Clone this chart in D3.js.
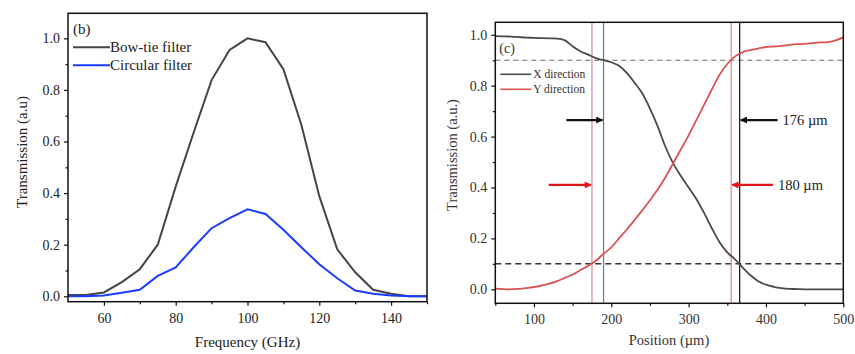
<!DOCTYPE html>
<html>
<head>
<meta charset="utf-8">
<script src="https://cdn.jsdelivr.net/npm/d3@7"></script>
<style>
  body { margin: 0; background: #fff; }
  .axis path { display: none; }
  .axis line { stroke: #111; stroke-width: 1.2; }
</style>
</head>
<body>
<div id="chart"></div>
<script>
// panel (b): frequency response
var freq = [50, 55, 60, 65, 70, 75, 80, 85, 90, 95, 100, 105, 110, 115, 120, 125, 130, 135, 140, 145, 150];
var bowtie = [0.005, 0.005, 0.015, 0.055, 0.105, 0.2, 0.425, 0.635, 0.838, 0.955, 1.0, 0.985, 0.88, 0.665, 0.388, 0.182, 0.093, 0.025, 0.01, 0.0, 0.0];
var circular = [0.0, 0.0, 0.003, 0.014, 0.025, 0.079, 0.112, 0.19, 0.264, 0.303, 0.337, 0.319, 0.258, 0.19, 0.124, 0.07, 0.022, 0.01, 0.003, 0.0, 0.0];
var freqTicks = [60, 80, 100, 120, 140];
var transTicks = [0.0, 0.2, 0.4, 0.6, 0.8, 1.0];

// panel (c): beam profile
var position = [50, 60, 70, 80, 90, 100, 110, 120, 130, 140, 150, 160, 170, 180, 190, 200, 210, 220, 230, 240,
    250, 260, 270, 280, 290, 300, 310, 320, 330, 340, 350, 360, 370, 380, 390, 400, 410, 420, 430, 440,
    450, 460, 470, 480, 490, 500];
var xDirection = [0.995, 0.994, 0.993, 0.991, 0.989, 0.988, 0.987, 0.986, 0.985, 0.978, 0.955, 0.935, 0.922, 0.908, 0.9, 0.892,
    0.878, 0.85, 0.812, 0.77, 0.71, 0.64, 0.56, 0.495, 0.445, 0.4, 0.355, 0.3, 0.24, 0.185, 0.145, 0.118, 0.085,
    0.055, 0.032, 0.018, 0.01, 0.005, 0.002, 0.001, 0.0, 0.0, 0.0, 0.0, 0.0, 0.0];
var yDirection = [0.003, 0.001, 0.0, 0.002, 0.005, 0.009, 0.015, 0.022, 0.032, 0.045, 0.058, 0.075, 0.092, 0.112, 0.14, 0.165,
    0.2, 0.235, 0.272, 0.31, 0.35, 0.392, 0.44, 0.495, 0.55, 0.605, 0.665, 0.725, 0.785, 0.843, 0.885, 0.915, 0.932,
    0.94, 0.946, 0.952, 0.954, 0.956, 0.96, 0.963, 0.964, 0.967, 0.97, 0.971, 0.978, 0.99];
var posTicks = [100, 200, 300, 400, 500];
var levels = [0.9, 0.1];
var edgesX = [190, 366];
var edgesY = [175, 355];
var widthLabels = ["176 µm", "180 µm"];

var serif = "'Liberation Serif', 'DejaVu Serif', serif";

var svg = d3.select("#chart").append("svg")
    .attr("width", 855)
    .attr("height", 354)
    .style("font-family", serif);

var defs = svg.append("defs");
["#111", "#e0161a"].forEach(function(c, i) {
    defs.append("marker")
        .attr("id", "arrow" + i)
        .attr("viewBox", "0 0 10 10")
        .attr("refX", 9).attr("refY", 5)
        .attr("markerWidth", 4.5).attr("markerHeight", 3.2)
        .attr("orient", "auto")
        .attr("markerUnits", "strokeWidth")
        .append("path")
        .attr("d", "M0,0 L10,5 L0,10 Z")
        .attr("fill", c);
});

function styleAxis(sel, color) {
    sel.attr("font-family", null).attr("font-size", null);
    sel.selectAll("text")
        .style("font-family", serif)
        .style("font-size", "14px")
        .attr("fill", color);
}

function drawAxes(g, x, y, w, h, xt, xminor, yminor, color) {
    g.append("g").attr("class", "axis")
        .attr("transform", "translate(0," + h + ")")
        .call(d3.axisBottom(x).tickValues(xt).tickSize(4).tickPadding(7))
        .call(styleAxis, color);
    g.append("g").attr("class", "axis")
        .attr("transform", "translate(0," + h + ")")
        .call(d3.axisBottom(x).tickValues(xminor).tickSize(2.5).tickFormat(""));
    g.append("g").attr("class", "axis")
        .call(d3.axisLeft(y).tickValues(transTicks).tickSize(4).tickPadding(4).tickFormat(d3.format(".1f")))
        .call(styleAxis, color);
    g.append("g").attr("class", "axis")
        .call(d3.axisLeft(y).tickValues(yminor).tickSize(2.5).tickFormat(""));
    g.append("rect")
        .attr("width", w).attr("height", h)
        .attr("fill", "none")
        .attr("stroke", "#111")
        .attr("stroke-width", 1.5);
}

// ---------- panel (b) ----------
var pb = { left: 68, top: 13.3, right: 427, bottom: 301.7 };
var wb = pb.right - pb.left, hb = pb.bottom - pb.top;
var gb = svg.append("g").attr("transform", "translate(" + pb.left + "," + pb.top + ")");
var xb = d3.scaleLinear().domain([50, 150]).range([0, wb]);
var yb = d3.scaleLinear().domain([-0.021, 1.097]).range([hb, 0]);

var lineB = d3.line().x(function(d, i) { return xb(freq[i]); }).y(function(d) { return yb(d); });
gb.append("path").datum(bowtie).attr("d", lineB)
    .attr("fill", "none").attr("stroke", "#454545").attr("stroke-width", 2);
gb.append("path").datum(circular).attr("d", lineB)
    .attr("fill", "none").attr("stroke", "#1a3cff").attr("stroke-width", 2);

drawAxes(gb, xb, yb, wb, hb, freqTicks, [70, 90, 110, 130, 150], [0.1, 0.3, 0.5, 0.7, 0.9], "#222");

gb.append("text").attr("x", 5).attr("y", 21).style("font-size", "15px").attr("fill", "#222").text("(b)");
var legB = [["Bow-tie filter", "#454545"], ["Circular filter", "#1a3cff"]];
legB.forEach(function(d, i) {
    var yy = 34 + i * 18;
    gb.append("line").attr("x1", 5).attr("x2", 42).attr("y1", yy).attr("y2", yy)
        .attr("stroke", d[1]).attr("stroke-width", 2);
    gb.append("text").attr("x", 42).attr("y", yy + 5).style("font-size", "15px").attr("fill", "#222").text(d[0]);
});

svg.append("text").attr("x", (pb.left + pb.right) / 2).attr("y", 347)
    .attr("text-anchor", "middle").style("font-size", "15px").attr("fill", "#222")
    .text("Frequency (GHz)");
svg.append("text").attr("transform", "translate(27,152) rotate(-90)")
    .attr("text-anchor", "middle").style("font-size", "15px").attr("fill", "#222")
    .text("Transmission (a.u)");

// ---------- panel (c) ----------
var pc = { left: 495.3, top: 22.3, right: 843.3, bottom: 303.3 };
var wc = pc.right - pc.left, hc = pc.bottom - pc.top;
var gc = svg.append("g").attr("transform", "translate(" + pc.left + "," + pc.top + ")");
var xc = d3.scaleLinear().domain([50, 500]).range([0, wc]);
var yc = d3.scaleLinear().domain([-0.055, 1.049]).range([hc, 0]);

// threshold levels
gc.selectAll(".level").data(levels).enter().append("line")
    .attr("x1", 0).attr("x2", wc)
    .attr("y1", function(d) { return yc(d); }).attr("y2", function(d) { return yc(d); })
    .attr("stroke", function(d, i) { return i == 0 ? "#666" : "#333"; })
    .attr("stroke-width", function(d, i) { return i == 0 ? 1 : 1.5; })
    .attr("stroke-dasharray", function(d, i) { return i == 0 ? "5,4" : "6,4"; });

// edge markers
gc.selectAll(".edgeY").data(edgesY).enter().append("line")
    .attr("x1", function(d) { return xc(d); }).attr("x2", function(d) { return xc(d); })
    .attr("y1", 0).attr("y2", hc)
    .attr("stroke", "#d98a8a").attr("stroke-width", 1.2);
gc.selectAll(".edgeX").data(edgesX).enter().append("line")
    .attr("x1", function(d) { return xc(d); }).attr("x2", function(d) { return xc(d); })
    .attr("y1", 0).attr("y2", hc)
    .attr("stroke", function(d, i) { return i == 0 ? "#777" : "#111"; }).attr("stroke-width", 1.2);

var lineC = d3.line().curve(d3.curveMonotoneX)
    .x(function(d, i) { return xc(position[i]); }).y(function(d) { return yc(d); });
gc.append("path").datum(xDirection).attr("d", lineC)
    .attr("fill", "none").attr("stroke", "#4a4a4a").attr("stroke-width", 1.8);
gc.append("path").datum(yDirection).attr("d", lineC)
    .attr("fill", "none").attr("stroke", "#d9534f").attr("stroke-width", 1.8);

// arrows pointing at the edges
var arrowRows = [
    { y: 0.665, edges: edgesX, color: "#111", m: 0, from: [142, 415] },
    { y: 0.41, edges: edgesY, color: "#e0161a", m: 1, from: [119, 409] }
];
arrowRows.forEach(function(r, k) {
    r.edges.forEach(function(e, i) {
        gc.append("line")
            .attr("x1", xc(r.from[i])).attr("x2", xc(e) + (i == 0 ? -1 : 1))
            .attr("y1", yc(r.y)).attr("y2", yc(r.y))
            .attr("stroke", r.color).attr("stroke-width", 2.2)
            .attr("marker-end", "url(#arrow" + r.m + ")");
    });
    gc.append("text")
        .attr("x", xc(r.from[1]) + 5).attr("y", yc(r.y) + 5)
        .style("font-size", "14.5px").attr("fill", "#222")
        .text(widthLabels[k]);
});

drawAxes(gc, xc, yc, wc, hc, posTicks, [50, 150, 250, 350, 450], [0.1, 0.3, 0.5, 0.7, 0.9], "#333");

gc.append("text").attr("x", 4).attr("y", 31).style("font-size", "14px").attr("fill", "#333").text("(c)");
var legC = [["X direction", "#4a4a4a"], ["Y direction", "#d9534f"]];
legC.forEach(function(d, i) {
    var yy = 52 + i * 15;
    gc.append("line").attr("x1", 5).attr("x2", 36).attr("y1", yy).attr("y2", yy)
        .attr("stroke", d[1]).attr("stroke-width", 1.6);
    gc.append("text").attr("x", 38).attr("y", yy + 4).style("font-size", "11.5px").attr("fill", "#333").text(d[0]);
});

svg.append("text").attr("x", 669).attr("y", 345)
    .attr("text-anchor", "middle").style("font-size", "14.5px").attr("fill", "#333")
    .text("Position (µm)");
svg.append("text").attr("transform", "translate(457,155) rotate(-90)")
    .attr("text-anchor", "middle").style("font-size", "14.5px").attr("fill", "#333")
    .text("Transmission (a.u.)");
</script>
</body>
</html>
